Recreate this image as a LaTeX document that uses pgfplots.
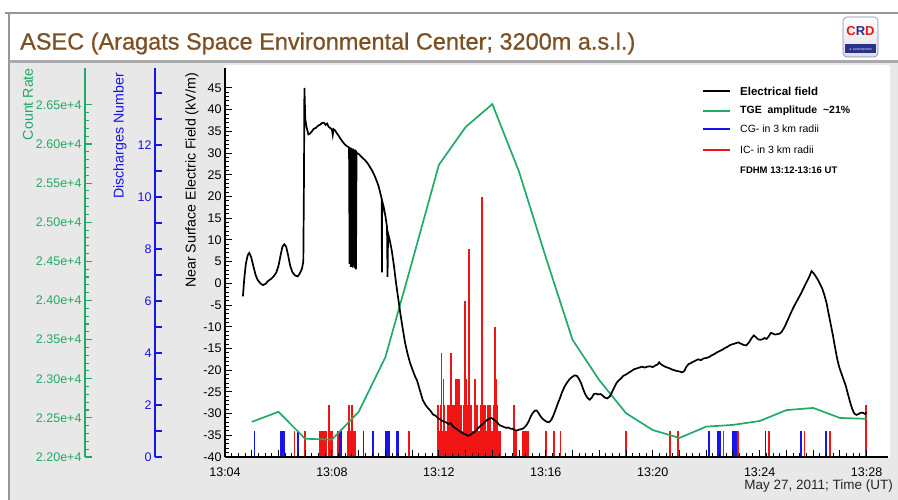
\documentclass[border=0pt]{standalone}
\usepackage{fontspec}
\setmainfont{Liberation Sans}
\newfontfamily\titlefont[FakeBold=0.7]{Liberation Sans}
\usepackage{pgfplots}
\pgfplotsset{compat=1.18}
\definecolor{titlebrown}{RGB}{125,80,35}
\definecolor{bggray}{RGB}{232,232,232}
\definecolor{framegray}{RGB}{150,150,150}
\definecolor{sepgray}{RGB}{170,170,170}
\definecolor{tgegreen}{RGB}{34,170,102}
\definecolor{cgblue}{RGB}{20,20,235}
\definecolor{icred}{RGB}{240,20,20}
\definecolor{logonavy}{RGB}{40,50,140}
\pgfplotsset{
  panel/.style={
    scale only axis, width=663pt, height=389pt,
    at={(225pt,43pt)}, anchor=south west,
    xmin=4, xmax=28.8,
    tick align=inside,
    /pgf/number format/assume math mode=true,
    tick label style={font=\fontsize{12.5}{13}\selectfont},
  }
}
\begin{document}
\begin{tikzpicture}[x=1pt,y=1pt]
\useasboundingbox (0,0) rectangle (898,500);
\fill[white] (0,0) rectangle (898,500);
\fill[bggray] (9,0) rectangle (898,437);
\fill[white] (225,43) rectangle (890,435);
\draw[framegray, line width=1.5pt] (5,487) -- (898,487);
\draw[framegray, line width=1.2pt] (9,0) -- (9,487);
\draw[sepgray, line width=3pt] (9,438) -- (898,438);
\node[anchor=west, text=titlebrown, font=\titlefont\fontsize{23.5}{25}\selectfont, inner sep=0pt] at (20,456.5) {ASEC (Aragats Space Environmental Center; 3200m a.s.l.)};
% logo
\shade[top color=white, bottom color=gray!25, draw=logonavy!60, line width=0.6pt, rounded corners=4pt] (843,443) rectangle (878,483);
\node[fill=logonavy, text=white, font=\fontsize{3}{3}\selectfont, minimum width=31pt, minimum height=9pt, inner sep=0pt] at (860.5,451) {A. ALIKHANYAN};
\node[font=\fontsize{13}{13}\selectfont\bfseries, inner sep=0pt] at (860.5,469) {\textcolor{icred}{C}\textcolor{logonavy}{R}\textcolor{icred}{D}};

% ---------- discharges axis (blue) ----------
\begin{axis}[panel,
  hide x axis,
  ymin=0, ymax=14.96,
  axis y line*=left, axis y line shift=70pt,
  axis line style={cgblue, line width=1.3pt, -},
  ytick={0,...,14}, yticklabels={0,,2,,4,,6,,8,,10,,12,,},
  major tick length=7pt,
  tick style={cgblue, line width=1.2pt},
  y tick label style={text=cgblue},
  clip=true]
\addplot[ycomb, cgblue, line width=1.8pt] coordinates {
(5.10,1) (6.10,1) (6.14,1) (6.18,1) (6.22,1) (6.72,1) (8.30,1) (8.36,1)
(9.18,1) (9.53,1) (10.02,1) (10.07,1) (10.12,1) (10.43,1) (10.49,1)
(22.10,1) (22.45,1) (22.52,1) (22.98,1) (23.04,1) (23.10,1) (24.22,1) (25.55,1) (26.48,1)
};
\addplot[ycomb, icred, line width=1.8pt] coordinates {
(6.60,1) (7.00,1) (7.55,1) (7.62,1) (7.68,1) (7.74,1) (7.80,1) (7.90,2) (7.96,1) (8.02,1) (8.22,1)
(8.60,1) (8.65,2) (8.70,1) (8.74,2) (8.80,1) (8.87,1) (10.88,1)
(11.95,1) (11.98,2) (12.02,1) (12.06,2) (12.10,4) (12.13,1) (12.17,3) (12.21,2) (12.25,1) (12.29,1)
(12.33,2) (12.37,1) (12.41,2) (12.45,4) (12.48,1) (12.52,2) (12.56,2) (12.60,1) (12.64,3) (12.68,3)
(12.72,2) (12.76,3) (12.80,1) (12.84,2) (12.88,1) (12.92,2) (12.97,6) (13.00,1) (13.03,3) (13.07,2)
(13.10,1) (13.13,8) (13.17,2) (13.21,2) (13.25,1) (13.30,1) (13.35,3) (13.40,2) (13.44,2) (13.48,1)
(13.52,1) (13.56,2) (13.60,10) (13.64,1) (13.68,2) (13.72,2) (13.76,1) (13.80,1) (13.84,2) (13.90,2)
(13.95,1) (14.00,1) (14.05,2) (14.09,5) (14.13,3) (14.17,2) (14.21,1) (14.25,1) (14.30,1)
(14.80,2) (14.85,1) (14.90,1) (15.15,1) (15.22,1) (15.28,1) (15.34,1)
(16.00,1) (16.30,1) (16.55,1) (19.00,1) (20.65,1) (20.95,1)
(22.65,1) (23.18,1) (24.34,1) (25.68,1) (26.62,1) (27.98,2)
};
\end{axis}

% ---------- count rate axis (green) ----------
\begin{axis}[panel,
  hide x axis,
  ymin=22000, ymax=26971,
  axis y line*=left, axis y line shift=140pt,
  axis line style={tgegreen, line width=1.3pt, -},
  ytick={22000,22500,...,26500},
  yticklabels={2.20e+4,2.25e+4,2.30e+4,2.35e+4,2.40e+4,2.45e+4,2.50e+4,2.55e+4,2.60e+4,2.65e+4},
  minor y tick num=4,
  major tick length=7pt, minor tick length=4pt,
  tick style={tgegreen, line width=1.1pt},
  y tick label style={text=tgegreen},
  scaled y ticks=false,
  clip=true]
\addplot[tgegreen, line width=1.7pt] coordinates {
(5,22449) (6,22577) (7,22233) (8,22222) (9,22577) (10,23276) (11,24496) (12,25733)
(13,26216) (14,26510) (15,25645) (16,24552) (17,23498) (18,22982) (19,22560) (20,22344)
(21,22244) (22,22388) (23,22410) (24,22460) (25,22599) (26,22627) (27,22499) (28,22488)
};
\end{axis}

% ---------- electric field axis (main) ----------
\begin{axis}[panel,
  ymin=-40, ymax=49.6,
  axis x line*=bottom, axis y line*=left,
  axis line style={black, line width=1.3pt, -},
  xtick={4,...,28},
  xticklabels={13:04,,,,13:08,,,,13:12,,,,13:16,,,,13:20,,,,13:24,,,,13:28},
  minor x tick num=3,
  ytick={-40,-35,...,45}, minor y tick num=4,
  major tick length=7pt, minor tick length=3.5pt,
  tick style={black, line width=1pt},
  xticklabel style={yshift=-7pt},
  clip=true]
\addplot[black, line width=1.7pt] coordinates {
(4.67,-3) (4.72,1) (4.78,4.5) (4.85,6.5) (4.91,7) (4.98,6) (5.06,4) (5.14,2) (5.22,0.8) (5.32,0)
(5.42,-0.4) (5.52,-0.1) (5.62,0.6) (5.72,1) (5.82,1.6) (5.92,2.5) (6.00,4) (6.08,6.5) (6.15,8.5) (6.22,9)
(6.29,8.4) (6.36,6.5) (6.44,4) (6.52,2.6) (6.62,1.8) (6.72,1.6) (6.80,2.3) (6.88,3.4) (6.93,5) (6.955,25)
(6.97,45) (6.985,42) (7.00,38) (7.05,36) (7.12,34.3) (7.18,34.5) (7.25,35) (7.32,35.6) (7.40,35.8) (7.48,36.3)
(7.55,36.5) (7.62,36.9) (7.70,37) (7.76,36.5) (7.82,36.8) (7.88,36) (7.94,35.8) (8.00,35.4) (8.03,34.2) (8.06,35.5)
(8.12,35.2) (8.18,34.6) (8.25,34) (8.32,33.3) (8.40,32.6) (8.48,32) (8.56,31.6) (8.64,31.3)
(8.66,4.5) (8.68,31.3) (8.70,3.8) (8.72,31.2) (8.74,4.2) (8.76,31) (8.78,3.6) (8.80,31) (8.82,4) (8.84,30.8)
(8.86,3.5) (8.88,30.6) (8.90,3.2) (8.92,30.2) (8.94,30) (9.00,29.8) (9.08,29.3) (9.16,28.8) (9.25,28.3) (9.34,27.6)
(9.42,26.8) (9.50,26) (9.58,25) (9.66,23.8) (9.74,22.5) (9.82,20.5) (9.86,19.5) (9.87,2.5) (9.88,19) (9.94,17.5)
(10.00,15.5) (10.06,13) (10.08,1.5) (10.10,11.5) (10.16,10) (10.24,7.5) (10.32,4) (10.40,0) (10.48,-3.5) (10.56,-7)
(10.65,-10.5) (10.73,-13.5) (10.82,-16) (10.92,-18.3) (11.02,-20) (11.12,-21.6) (11.18,-22.3) (11.26,-24) (11.34,-25.7) (11.40,-26.9)
(11.50,-28) (11.60,-28.8) (11.68,-29.3) (11.78,-30.2) (11.88,-30.5) (11.96,-31) (12.06,-31.4) (12.16,-31.8) (12.26,-32) (12.36,-32.4)
(12.44,-32.2) (12.52,-32.9) (12.60,-33.3) (12.68,-33.6) (12.76,-34) (12.84,-34.3) (12.92,-34.6) (13.00,-34.8) (13.08,-35.1) (13.16,-35)
(13.24,-34.6) (13.32,-34.3) (13.40,-33.9) (13.48,-33.3) (13.56,-32.8) (13.64,-32.4) (13.72,-31.9) (13.80,-31.5) (13.88,-31.2) (13.96,-31)
(14.04,-31.3) (14.12,-31.7) (14.20,-32.2) (14.28,-32.7) (14.36,-32.9) (14.44,-33.1) (14.52,-33.3) (14.60,-33.2) (14.68,-33.5) (14.76,-33.5)
(14.84,-33.8) (14.92,-33.9) (15.00,-33.7) (15.08,-33.6) (15.16,-33.4) (15.26,-32.8) (15.36,-31.8) (15.44,-30.6) (15.52,-29.8) (15.60,-29.3)
(15.66,-29.3) (15.72,-29.8) (15.80,-30.6) (15.88,-31.2) (15.96,-31.6) (16.04,-31.9) (16.12,-32) (16.20,-31.5) (16.28,-30.5) (16.36,-29.2)
(16.44,-27.8) (16.52,-26.6) (16.60,-25.2) (16.70,-23.8) (16.80,-22.8) (16.90,-22) (17.00,-21.5) (17.08,-21.2) (17.16,-21.3) (17.24,-22)
(17.32,-23) (17.40,-24.4) (17.48,-25.6) (17.56,-26.4) (17.64,-26.8) (17.72,-26.3) (17.80,-25.5) (17.88,-25.4) (17.96,-25.6) (18.04,-25.5)
(18.12,-25.8) (18.20,-26.3) (18.30,-26.5) (18.40,-26) (18.48,-25) (18.56,-24) (18.64,-23) (18.72,-22.4) (18.80,-22) (18.90,-21.3)
(19.00,-21) (19.10,-20.6) (19.20,-20.2) (19.30,-19.8) (19.40,-19.6) (19.50,-19.4) (19.60,-19.2) (19.70,-19.4) (19.80,-19.2) (19.90,-19.1)
(20.00,-19.3) (20.10,-18.9) (20.18,-18.7) (20.24,-18.2) (20.30,-18.6) (20.40,-19) (20.50,-19.3) (20.60,-19.5) (20.70,-19.8) (20.80,-20)
(20.90,-20.2) (21.00,-20.3) (21.10,-20.5) (21.18,-20.2) (21.26,-19.2) (21.34,-18.6) (21.42,-18.4) (21.50,-18.1) (21.60,-17.8) (21.70,-17.5)
(21.80,-17.7) (21.90,-17.3) (22.00,-17.2) (22.10,-17) (22.20,-16.6) (22.30,-16.3) (22.40,-15.9) (22.50,-15.6) (22.60,-15.3) (22.70,-14.9)
(22.80,-14.6) (22.90,-14.2) (23.00,-14) (23.10,-13.8) (23.20,-13.6) (23.30,-13.9) (23.40,-14.2) (23.50,-14.3) (23.60,-13.6) (23.70,-12.6)
(23.78,-12) (23.86,-12.4) (23.94,-12.9) (24.02,-13) (24.10,-12.9) (24.18,-12.6) (24.26,-12.8) (24.34,-12.2) (24.42,-11.4) (24.50,-11.6)
(24.58,-11.8) (24.66,-11.7) (24.74,-11.6) (24.82,-11.2) (24.90,-10.4) (24.98,-9.4) (25.06,-8.3) (25.14,-7.2) (25.22,-6.1) (25.30,-5.1)
(25.38,-4.2) (25.46,-3.3) (25.54,-2.4) (25.62,-1.4) (25.70,-0.4) (25.78,0.6) (25.86,1.6) (25.94,2.8) (26.02,2.3) (26.10,1.6)
(26.18,0.8) (26.26,-0.2) (26.34,-1.2) (26.42,-2.7) (26.50,-4.5) (26.58,-7) (26.66,-9.5) (26.74,-12) (26.82,-14.8) (26.90,-17.4)
(26.98,-19.4) (27.06,-20.8) (27.14,-22.2) (27.22,-23.6) (27.30,-25.5) (27.38,-27.3) (27.46,-28.9) (27.54,-30) (27.62,-30.3) (27.70,-30.1)
(27.78,-29.8) (27.86,-29.8) (27.94,-30.1) (28.00,-29.7)
};
\end{axis}

% legend (keys drawn by hand)
\draw[black, line width=1.8pt] (703,409) -- (730,409);
\node[anchor=west, inner sep=0pt, font=\fontsize{11.5}{12}\selectfont\bfseries] at (740,409) {Electrical field};
\draw[tgegreen, line width=1.8pt] (703,389) -- (730,389);
\node[anchor=west, inner sep=0pt, font=\fontsize{10.5}{12}\selectfont\bfseries] at (740,389) {TGE\ \ amplitude \ \textasciitilde21\%};
\draw[cgblue, line width=1.8pt] (703,371) -- (730,371);
\node[anchor=west, inner sep=0pt, font=\fontsize{10.5}{12}\selectfont] at (740,371) {CG- in 3 km radii};
\draw[icred, line width=1.8pt] (703,350) -- (730,350);
\node[anchor=west, inner sep=0pt, font=\fontsize{10.5}{12}\selectfont] at (740,350) {IC- in 3 km radii};
\node[anchor=west, font=\fontsize{9.5}{10}\selectfont\bfseries, inner sep=0pt] at (740,330) {FDHM 13:12-13:16 UT};

% axis titles and texts
\node[rotate=90, anchor=east, text=tgegreen, font=\fontsize{14.2}{15}\selectfont, inner sep=0pt] at (28,432) {Count Rate};
\node[rotate=90, anchor=east, text=cgblue, font=\fontsize{14.2}{15}\selectfont, inner sep=0pt] at (120,427) {Discharges Number};
\node[rotate=90, anchor=east, text=black, font=\fontsize{14.2}{15}\selectfont, inner sep=0pt] at (192,427) {Near Surface Electric Field (kV/m)};
\node[anchor=east, font=\fontsize{13.5}{14}\selectfont, inner sep=0pt, text=black!85] at (893,13.5) {May 27, 2011; Time (UT)};
\end{tikzpicture}
\end{document}
